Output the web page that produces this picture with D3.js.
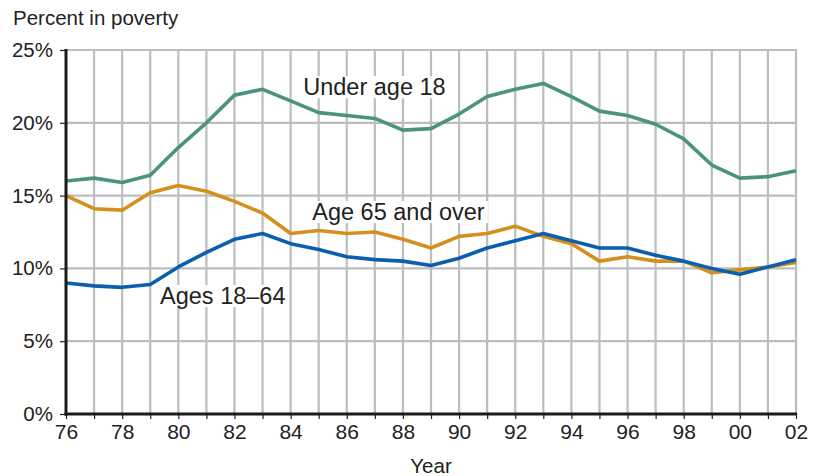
<!DOCTYPE html>
<html>
<head>
<meta charset="utf-8">
<script src="https://cdn.jsdelivr.net/npm/d3@7"></script>
<style>
  body { margin: 0; background: #fff; }
  text { font-family: "Liberation Sans", Arial, sans-serif; fill: #222; }
</style>
</head>
<body>
<div id="chart"></div>
<script>
var SVGWidth = 817;
var SVGHeight = 476;

// plot box
var Left = 66, Right = 796, Top = 50, Bottom = 414;

var years = d3.range(1976, 2003);
var yTicks = [0, 5, 10, 15, 20, 25];
var xTickLabels = ["76", "78", "80", "82", "84", "86", "88", "90", "92", "94", "96", "98", "00", "02"];

var under18 = [16.0, 16.2, 15.9, 16.4, 18.3, 20.0, 21.9, 22.3, 21.5, 20.7, 20.5, 20.3, 19.5, 19.6,
               20.6, 21.8, 22.3, 22.7, 21.8, 20.8, 20.5, 19.9, 18.9, 17.1, 16.2, 16.3, 16.7];
var age65 = [15.0, 14.1, 14.0, 15.2, 15.7, 15.3, 14.6, 13.8, 12.4, 12.6, 12.4, 12.5, 12.0, 11.4,
             12.2, 12.4, 12.9, 12.2, 11.7, 10.5, 10.8, 10.5, 10.5, 9.7, 9.9, 10.1, 10.4];
var ages1864 = [9.0, 8.8, 8.7, 8.9, 10.1, 11.1, 12.0, 12.4, 11.7, 11.3, 10.8, 10.6, 10.5, 10.2,
                10.7, 11.4, 11.9, 12.4, 11.9, 11.4, 11.4, 10.9, 10.5, 10.0, 9.6, 10.1, 10.6];

var seriesNames = ["Under age 18", "Age 65 and over", "Ages 18\u201364"];
var seriesColors = ["#4b9479", "#d4901c", "#0b5fae"];
var seriesData = [under18, age65, ages1864];

var svg = d3.select("#chart")
    .append("svg")
    .attr("width", SVGWidth)
    .attr("height", SVGHeight);

var x = d3.scaleLinear().domain([1976, 2002]).range([Left, Right]);
var y = d3.scaleLinear().domain([0, 25]).range([Bottom, Top]);

// grid
var grid = svg.append("g").attr("stroke", "#bbbdbf").attr("stroke-width", 2.2);
grid.selectAll(".vg").data(years.slice(1)).enter().append("line")
    .attr("x1", function(d) { return x(d); })
    .attr("x2", function(d) { return x(d); })
    .attr("y1", y(25) - 1)
    .attr("y2", y(0));
grid.selectAll(".hg").data(yTicks.slice(1)).enter().append("line")
    .attr("x1", x(1976))
    .attr("x2", x(2002) + 1)
    .attr("y1", function(d) { return y(d); })
    .attr("y2", function(d) { return y(d); });

// series labels with white boxes (drawn under lines)
var labels = [
    { name: seriesNames[0], yr: 1984.45, v: 21.9 },
    { name: seriesNames[1], yr: 1984.77, v: 13.32 },
    { name: seriesNames[2], yr: 1979.35, v: 7.55 }
];
labels.forEach(function(l) {
    var t = svg.append("text")
        .attr("x", x(l.yr))
        .attr("y", y(l.v))
        .attr("font-size", 23.5)
        .text(l.name);
    var b = t.node().getBBox();
    svg.insert("rect", "text")
        .attr("x", b.x - 3)
        .attr("y", b.y + 2)
        .attr("width", b.width + 6)
        .attr("height", b.height - 4)
        .attr("fill", "#fff");
});

// lines
var line = d3.line()
    .x(function(d, i) { return x(years[i]); })
    .y(function(d) { return y(d); });

seriesData.forEach(function(s, k) {
    svg.append("path")
        .datum(s)
        .attr("fill", "none")
        .attr("stroke", seriesColors[k])
        .attr("stroke-width", 3.6)
        .attr("stroke-linejoin", "round")
        .attr("d", line);
});

// axes
var yAxis = svg.append("g")
    .attr("transform", "translate(" + Left + ",0)")
    .call(d3.axisLeft(y).tickValues(yTicks).tickSize(6).tickPadding(7)
        .tickFormat(function(d) { return d + "%"; }));
yAxis.select(".domain").remove();
yAxis.selectAll(".tick line").attr("stroke", "#222").attr("stroke-width", 1.2);
yAxis.selectAll(".tick text").attr("font-size", 20.5).attr("font-family", null).attr("fill", "#222");

var xAxis = svg.append("g")
    .attr("transform", "translate(0," + Bottom + ")")
    .call(d3.axisBottom(x).tickValues(years).tickSize(5).tickPadding(5)
        .tickFormat(function(d, i) { return i % 2 === 0 ? xTickLabels[i / 2] : ""; }));
xAxis.select(".domain").remove();
xAxis.selectAll(".tick line").attr("stroke", "#222").attr("stroke-width", 1.2);
xAxis.selectAll(".tick text").attr("font-size", 21).attr("font-family", null).attr("fill", "#222");

svg.append("line")
    .attr("x1", x(1976)).attr("x2", x(1976))
    .attr("y1", y(25) - 1).attr("y2", y(0) + 1.5)
    .attr("stroke", "#1a1a1a").attr("stroke-width", 3);
svg.append("line")
    .attr("x1", x(1976) - 1.5).attr("x2", x(2002) + 1)
    .attr("y1", y(0)).attr("y2", y(0))
    .attr("stroke", "#1a1a1a").attr("stroke-width", 3);

// titles
svg.append("text")
    .attr("x", 13)
    .attr("y", 25)
    .attr("font-size", 20.5)
    .text("Percent in poverty");

svg.append("text")
    .attr("x", (Left + Right) / 2)
    .attr("y", 473)
    .attr("text-anchor", "middle")
    .attr("font-size", 20.5)
    .text("Year");
</script>
</body>
</html>
